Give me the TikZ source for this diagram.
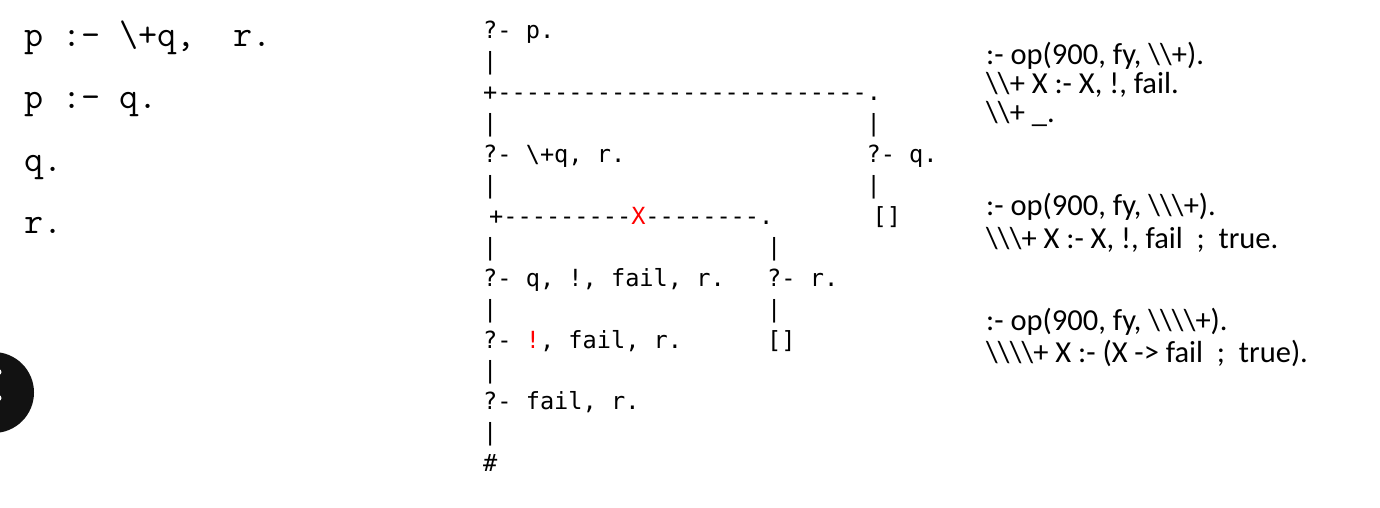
\documentclass[tikz,border=0pt]{standalone}
\usepackage{fontspec}
\newfontfamily\treefont{DejaVu Sans Mono}[Ligatures=TeXOff]
\newfontfamily\notefont{Carlito}
\newcommand{\bsl}{\textbackslash}

\begin{document}
\begin{tikzpicture}[x=1pt,y=-1pt,
	code/.style={anchor=base west,inner sep=0pt,font=\fontsize{37}{37}\ttfamily},
	tree/.style={anchor=base west,inner sep=0pt,font=\fontsize{23.6}{24}\treefont},
	note/.style={anchor=base west,inner sep=0pt,font=\fontsize{30.5}{31}\notefont}]
		\useasboundingbox (0,0) rectangle (1380,508);
		% program
		\node[code] (rule1) at (24,47) {p :- \bsl+q,\ \ r.};
		\node[code] (rule2) at (24,109) {p :- q.};
		\node[code] (fact1) at (24,171) {q.};
		\node[code] (fact2) at (24,233) {r.};
		% menu button, cut off at the edge
		\fill [black!93] (-6.5,392.5) circle[radius=40.5];
		\fill [white] (-1.5,372) circle[radius=3];
		\fill [white] (-1.5,398) circle[radius=3];
		% search tree, one cell per character
		\begin{scope}[shift={(483,39)},x=14.2pt,y=-30.9pt]
		\node[tree] (goal0) at (0,0) {?- p.};
		\node[tree] (bar1) at (0,1) {|};
		\node[tree] (fork1) at (0,2) {+--------------------------.};
		\node[tree] (bar2l) at (0,3) {|};
		\node[tree] (bar2r) at (27,3) {|};
		\node[tree] (goal1) at (0,4) {?- \bsl+q, r.};
		\node[tree] (goal1r) at (27,4) {?- q.};
		\node[tree] (bar3l) at (0,5) {|};
		\node[tree] (bar3r) at (27,5) {|};
		\node[tree] (fork2) at (0.42,6) {+---------\textcolor{red}{X}--------.};
		\node[tree] (done1) at (27.42,6) {[]};
		\node[tree] (bar4l) at (0,7) {|};
		\node[tree] (bar4r) at (20,7) {|};
		\node[tree] (goal2) at (0,8) {?- q, !, fail, r.};
		\node[tree] (goal2r) at (20,8) {?- r.};
		\node[tree] (bar5l) at (0,9) {|};
		\node[tree] (bar5r) at (20,9) {|};
		\node[tree] (goal3) at (0,10) {?- \textcolor{red}{!}, fail, r.};
		\node[tree] (done2) at (20,10) {[]};
		\node[tree] (bar6) at (0,11) {|};
		\node[tree] (goal4) at (0,12) {?- fail, r.};
		\node[tree] (bar7) at (0,13) {|};
		\node[tree] (fail) at (0,14) {\#};
		\end{scope}
		% definitions of negation
		\node[note] (def1a) at (986,65) {:- op(900, fy, \bsl\bsl+).};
		\node[note] (def1b) at (986,94) {\bsl\bsl+ X :- X, !, fail.};
		\node[note] (def1c) at (986,122) {\bsl\bsl+ \_.};
		\node[note] (def2a) at (986,215) {:- op(900, fy, \bsl\bsl\bsl+).};
		\node[note] (def2b) at (986,248) {\bsl\bsl\bsl+ X :- X, !, fail\ \ ;\ \ true.};
		\node[note] (def3a) at (986,330) {:- op(900, fy, \bsl\bsl\bsl\bsl+).};
		\node[note] (def3b) at (986,362) {\bsl\bsl\bsl\bsl+ X :- (X -> fail\ \ ;\ \ true).};
\end{tikzpicture}
\end{document}
